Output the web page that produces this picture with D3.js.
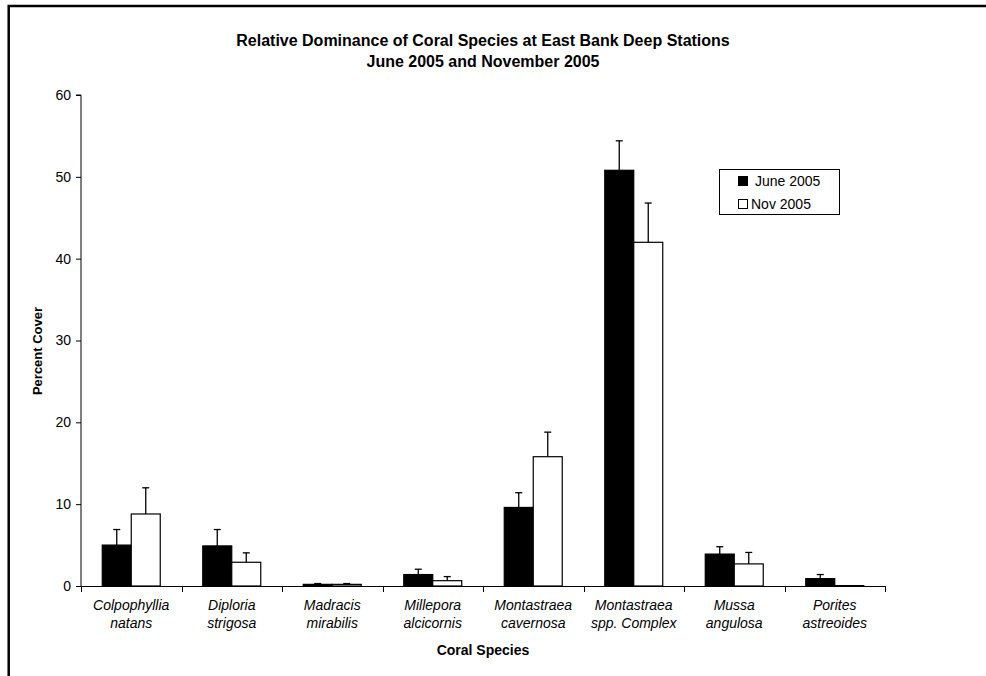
<!DOCTYPE html>
<html>
<head>
<meta charset="utf-8">
<script src="https://cdn.jsdelivr.net/npm/d3@7"></script>
<style>
  html, body { margin: 0; padding: 0; background: #fff; }
  svg { display: block; font-family: Arial, "Liberation Sans", sans-serif; }
</style>
</head>
<body>
<svg id="chart" width="986" height="676"></svg>
<script>
// Coral species (two-line labels)
const categories = [
  ["Colpophyllia", "natans"],
  ["Diploria", "strigosa"],
  ["Madracis", "mirabilis"],
  ["Millepora", "alcicornis"],
  ["Montastraea", "cavernosa"],
  ["Montastraea", "spp. Complex"],
  ["Mussa", "angulosa"],
  ["Porites", "astreoides"]
];
const seriesNames = ["June 2005", "Nov 2005"];
// Mean percent cover and standard error
const juneValues = [5.0, 4.9, 0.2, 1.4, 9.6, 50.8, 3.9, 0.9];
const juneErrors = [1.9, 2.0, 0.1, 0.65, 1.8, 3.6, 0.9, 0.5];
const novValues  = [8.8, 2.9, 0.2, 0.65, 15.8, 42.0, 2.7, 0.05];
const novErrors  = [3.2, 1.15, 0.1, 0.5, 3.0, 4.8, 1.4, 0];
const yTicks = [0, 10, 20, 30, 40, 50, 60];

const svg = d3.select("#chart");
const plotLeft = 81, plotRight = 885, plotTop = 95, plotBottom = 586;

const keys = categories.map(c => c.join(" "));
const x0 = d3.scaleBand().domain(keys).range([plotLeft, plotRight]).padding(0);
const x1 = d3.scaleBand().domain(seriesNames).range([0, x0.bandwidth()])
  .paddingInner(0).paddingOuter(0.733);
const y = d3.scaleLinear().domain([0, 60]).range([plotBottom, plotTop]);

// Outer frame
svg.append("path")
  .attr("d", "M8.7,676 V6 H986")
  .attr("fill", "none").attr("stroke", "#000").attr("stroke-width", 2.5);

// Title
const title = svg.append("text")
  .attr("text-anchor", "middle")
  .attr("font-weight", "bold").attr("font-size", 16);
title.append("tspan").attr("x", 483).attr("y", 46)
  .text("Relative Dominance of Coral Species at East Bank Deep Stations");
title.append("tspan").attr("x", 483).attr("y", 67)
  .text("June 2005 and November 2005");

// Y axis
const yAxis = d3.axisLeft(y).tickValues(yTicks).tickSize(5).tickPadding(5);
const gy = svg.append("g").attr("transform", `translate(${plotLeft},0)`).call(yAxis);
gy.select(".domain").attr("d", `M-5,${plotTop}H0V${plotBottom}`).attr("stroke", "#000");
gy.selectAll(".tick line").attr("stroke", "#000");
gy.selectAll(".tick text").attr("font-size", 14).attr("fill", "#000")
  .attr("font-family", "Arial, 'Liberation Sans', sans-serif");

// X axis line and tick marks at category boundaries
svg.append("line").attr("x1", plotLeft).attr("x2", plotRight)
  .attr("y1", plotBottom + 0.5).attr("y2", plotBottom + 0.5).attr("stroke", "#000");
const bounds = keys.map(k => x0(k)).concat([x0(keys[keys.length - 1]) + x0.bandwidth()]);
svg.append("g").selectAll("line").data(bounds).join("line")
  .attr("x1", d => Math.round(d) + 0.5).attr("x2", d => Math.round(d) + 0.5)
  .attr("y1", plotBottom).attr("y2", plotBottom + 6).attr("stroke", "#000");

// Category labels
const lab = svg.append("g").attr("font-style", "italic").attr("font-size", 14)
  .attr("text-anchor", "middle");
categories.forEach((c, i) => {
  const cx = x0(keys[i]) + x0.bandwidth() / 2;
  const t = lab.append("text");
  t.append("tspan").attr("x", cx).attr("y", 610).text(c[0]);
  t.append("tspan").attr("x", cx).attr("y", 628).text(c[1]);
});

// Axis titles
svg.append("text").attr("x", 483).attr("y", 655).attr("text-anchor", "middle")
  .attr("font-weight", "bold").attr("font-size", 14).text("Coral Species");
svg.append("text").attr("transform", "translate(42,351) rotate(-90)")
  .attr("text-anchor", "middle").attr("font-weight", "bold").attr("font-size", 13)
  .text("Percent Cover");

// Bars and error bars
const series = [
  { name: seriesNames[0], values: juneValues, errors: juneErrors, fill: "#000" },
  { name: seriesNames[1], values: novValues, errors: novErrors, fill: "#fff" }
];
const plot = svg.append("g");
series.forEach(s => {
  const g = plot.append("g");
  s.values.forEach((v, i) => {
    const bx = x0(keys[i]) + x1(s.name);
    const cx = bx + x1.bandwidth() / 2;
    const e = s.errors[i];
    if (e > 0) {
      g.append("line").attr("x1", cx).attr("x2", cx)
        .attr("y1", y(v)).attr("y2", y(v + e)).attr("stroke", "#000").attr("stroke-width", 1.3);
      g.append("line").attr("x1", cx - 3.5).attr("x2", cx + 3.5)
        .attr("y1", y(v + e)).attr("y2", y(v + e)).attr("stroke", "#000").attr("stroke-width", 1.3);
    }
    g.append("rect").attr("x", bx).attr("y", y(v))
      .attr("width", x1.bandwidth()).attr("height", y(0) - y(v))
      .attr("fill", s.fill).attr("stroke", "#000").attr("stroke-width", 1.2);
  });
});

// Legend
const lg = svg.append("g");
lg.append("rect").attr("x", 719.5).attr("y", 169.5).attr("width", 120).attr("height", 45)
  .attr("fill", "#fff").attr("stroke", "#000");
lg.append("rect").attr("x", 738.5).attr("y", 176.5).attr("width", 9).attr("height", 9)
  .attr("fill", "#000").attr("stroke", "#000");
lg.append("text").attr("x", 755).attr("y", 186).attr("font-size", 14).text(seriesNames[0]);
lg.append("rect").attr("x", 738.5).attr("y", 199.5).attr("width", 9).attr("height", 9)
  .attr("fill", "#fff").attr("stroke", "#000");
lg.append("text").attr("x", 751).attr("y", 209).attr("font-size", 14).text(seriesNames[1]);
</script>
</body>
</html>
